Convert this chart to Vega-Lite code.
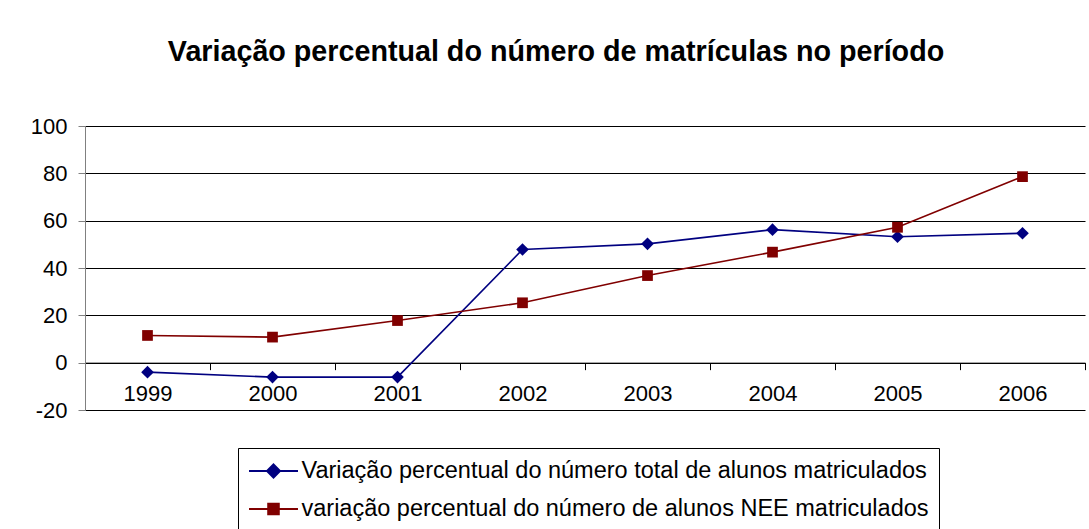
{
  "$schema": "https://vega.github.io/schema/vega-lite/v6.json",
  "width": 1000,
  "height": 284,
  "autosize": {"type": "none"},
  "padding": {"left": 85, "top": 126, "right": 4, "bottom": 119},
  "background": "white",
  "title": {
    "text": "Variação percentual do número de matrículas no período",
    "font": "Liberation Sans",
    "fontSize": 28.7,
    "fontWeight": "bold",
    "color": "black",
    "anchor": "middle",
    "dx": -29,
    "offset": 48
  },
  "data": {
    "values": [
      {"ano": "1999", "serie": "Variação percentual do número total de alunos matriculados", "valor": -4.0},
      {"ano": "2000", "serie": "Variação percentual do número total de alunos matriculados", "valor": -6.1},
      {"ano": "2001", "serie": "Variação percentual do número total de alunos matriculados", "valor": -6.1},
      {"ano": "2002", "serie": "Variação percentual do número total de alunos matriculados", "valor": 47.8},
      {"ano": "2003", "serie": "Variação percentual do número total de alunos matriculados", "valor": 50.2},
      {"ano": "2004", "serie": "Variação percentual do número total de alunos matriculados", "valor": 56.2},
      {"ano": "2005", "serie": "Variação percentual do número total de alunos matriculados", "valor": 53.2},
      {"ano": "2006", "serie": "Variação percentual do número total de alunos matriculados", "valor": 54.7},
      {"ano": "1999", "serie": "variação percentual do número de alunos NEE matriculados", "valor": 11.5},
      {"ano": "2000", "serie": "variação percentual do número de alunos NEE matriculados", "valor": 10.8},
      {"ano": "2001", "serie": "variação percentual do número de alunos NEE matriculados", "valor": 17.8},
      {"ano": "2002", "serie": "variação percentual do número de alunos NEE matriculados", "valor": 25.3},
      {"ano": "2003", "serie": "variação percentual do número de alunos NEE matriculados", "valor": 36.8},
      {"ano": "2004", "serie": "variação percentual do número de alunos NEE matriculados", "valor": 46.7},
      {"ano": "2005", "serie": "variação percentual do número de alunos NEE matriculados", "valor": 57.2},
      {"ano": "2006", "serie": "variação percentual do número de alunos NEE matriculados", "valor": 78.6}
    ]
  },
  "encoding": {
    "x": {
      "field": "ano",
      "type": "ordinal",
      "bandPosition": 0.5,
      "scale": {"type": "band", "paddingInner": 0, "paddingOuter": 0},
      "axis": {
        "title": null,
        "orient": "bottom",
        "offset": -47.33,
        "labelAngle": 0,
        "labelFont": "Liberation Sans",
        "labelFontSize": 22,
        "labelColor": "black",
        "labelPadding": 14,
        "domainColor": "black",
        "domainWidth": 1,
        "tickColor": "black",
        "tickSize": 7,
        "tickBand": "extent",
        "grid": false
      }
    },
    "y": {
      "field": "valor",
      "type": "quantitative",
      "scale": {"domain": [-20, 100], "nice": false, "zero": false},
      "axis": {
        "title": null,
        "values": [-20, 0, 20, 40, 60, 80, 100],
        "labelExpr": "'' + datum.value",
        "labelFont": "Liberation Sans",
        "labelFontSize": 22,
        "labelColor": "black",
        "labelPadding": 11,
        "domainColor": "#808080",
        "tickColor": "#808080",
        "tickSize": 7,
        "grid": true,
        "gridColor": "black",
        "gridOpacity": 1,
        "gridWidth": 1
      }
    },
    "color": {
      "field": "serie",
      "type": "nominal",
      "scale": {
        "domain": [
          "Variação percentual do número total de alunos matriculados",
          "variação percentual do número de alunos NEE matriculados"
        ],
        "range": ["#000080", "#800000"]
      },
      "legend": {
        "title": null,
        "orient": "none",
        "legendX": 153,
        "legendY": 322,
        "direction": "vertical",
        "labelFont": "Liberation Sans",
        "labelFontSize": 23.5,
        "labelColor": "black",
        "labelLimit": 0,
        "labelOffset": 15,
        "symbolSize": 576,
        "symbolOffset": 12.5,
        "symbolStrokeWidth": 2,
        "rowPadding": 13,
        "padding": 10,
        "strokeColor": "black",
        "fillColor": "white",
        "encode": {
          "symbols": {
            "update": {
              "shape": {"signal": "datum.index === 0 ? 'M-2.04,0H2.04M0,-0.54L0.54,0L0,0.54L-0.54,0Z' : 'M-2.04,0H2.04M-0.44,-0.44H0.44V0.44H-0.44Z'"},
              "fill": {"signal": "datum.index === 0 ? '#000080' : '#800000'"},
              "stroke": {"signal": "datum.index === 0 ? '#000080' : '#800000'"},
              "strokeWidth": {"value": 2},
              "opacity": {"value": 1}
            }
          }
        }
      }
    }
  },
  "layer": [
    {
      "mark": {"type": "line", "strokeWidth": 1.6}
    },
    {
      "transform": [{"filter": "datum.serie === 'Variação percentual do número total de alunos matriculados'"}],
      "mark": {"type": "point", "shape": "diamond", "filled": true, "opacity": 1, "size": 160}
    },
    {
      "transform": [{"filter": "datum.serie === 'variação percentual do número de alunos NEE matriculados'"}],
      "mark": {"type": "point", "shape": "square", "filled": true, "opacity": 1, "size": 115}
    }
  ],
  "config": {
    "view": {"stroke": null},
    "font": "Liberation Sans"
  }
}
